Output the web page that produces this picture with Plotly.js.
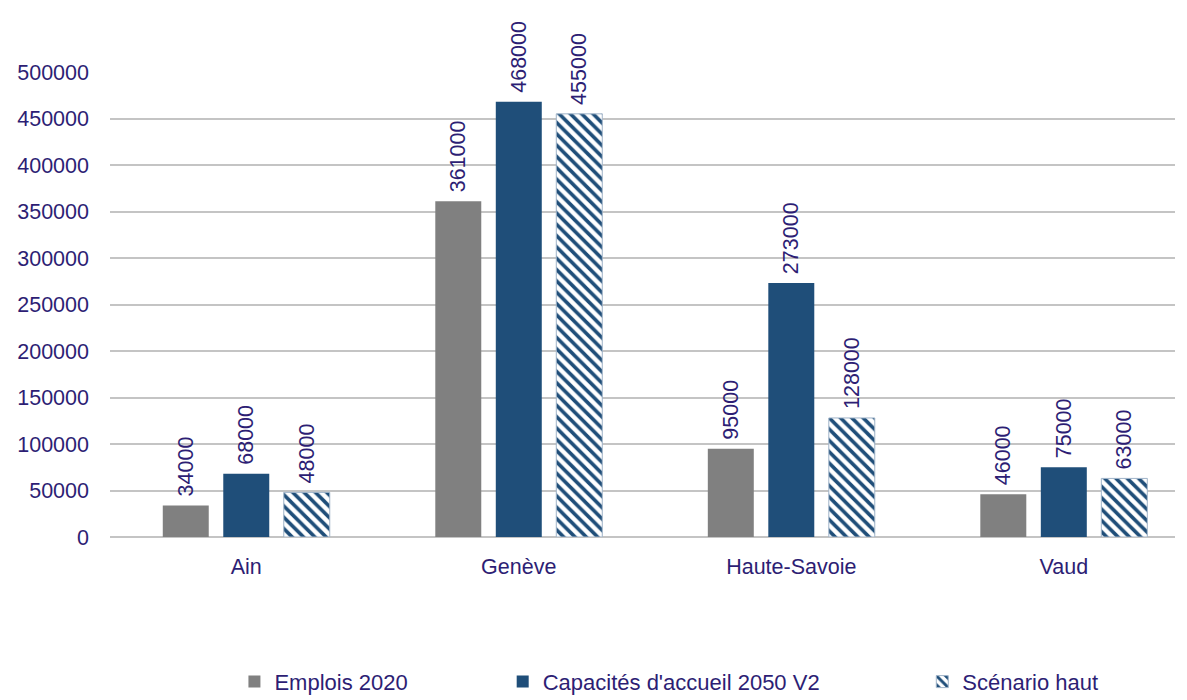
<!DOCTYPE html>
<html><head><meta charset="utf-8">
<script src="https://cdn.plot.ly/plotly-3.0.1.min.js"></script>
<style>body{margin:0;background:#fff}#c{width:1187px;height:700px}</style>
</head><body><div id="c"></div>
<script>
const categories = ['Ain', 'Genève', 'Haute-Savoie', 'Vaud'];
const emplois2020 = [34000, 361000, 95000, 46000];
const capacites2050 = [68000, 468000, 273000, 75000];
const scenarioHaut = [48000, 455000, 128000, 63000];
const yTicks = [0, 50000, 100000, 150000, 200000, 250000, 300000, 350000, 400000, 450000, 500000];

const txtColor = '#2d1e74';
const font = {family: 'Liberation Sans, Arial, sans-serif', size: 21.5, color: txtColor};

function mk(name, y, marker, legend) {
  return {
    type: 'bar', name: name, x: categories, y: y,
    text: y.map(v => '\u00a0' + String(v)), textposition: 'outside', textangle: -90, constraintext: 'none',
    textfont: {family: font.family, size: 21.5, color: txtColor},
    cliponaxis: false, marker: marker, legend: legend
  };
}

const data = [
  mk('Emplois 2020', emplois2020, {color: '#808080'}, 'legend'),
  mk("Capacités d'accueil 2050 V2", capacites2050, {color: '#1f4e79'}, 'legend2'),
  mk('Scénario haut', scenarioHaut, {color: '#ffffff', line: {color: '#9fb3c8', width: 1},
     pattern: {shape: '\\', fgcolor: '#1f4e79', bgcolor: '#ffffff', size: 8, solidity: 0.45}}, 'legend3')
];

const legBase = {orientation: 'h', yanchor: 'middle', xanchor: 'left', yref: 'container', xref: 'container',
  y: 0.026, font: {family: font.family, size: 22, color: txtColor}, bgcolor: 'rgba(0,0,0,0)', itemwidth: 30};

const layout = {
  width: 1187, height: 700,
  margin: {l: 110, r: 12, t: 72, b: 163},
  paper_bgcolor: '#fff', plot_bgcolor: '#fff',
  font: font,
  barmode: 'group', bargap: 0.334, bargroupgap: 0.24,
  xaxis: {type: 'category', range: [-0.5, 3.408], showgrid: false, showline: false, ticks: '',
    tickfont: font, ticklabelstandoff: 14, fixedrange: true},
  yaxis: {range: [0, 500000], tickvals: yTicks, ticktext: yTicks.map(String), showgrid: true,
    gridcolor: '#c4c4c4', gridwidth: 2, zeroline: true, zerolinecolor: '#c4c4c4', zerolinewidth: 2,
    showline: false, ticks: '', tickfont: font, ticklabelstandoff: 20, automargin: false},
  showlegend: true,
  legend: Object.assign({}, legBase, {x: 0.1975}),
  legend2: Object.assign({}, legBase, {x: 0.4235}),
  legend3: Object.assign({}, legBase, {x: 0.777})
};

Plotly.newPlot('c', data, layout, {displayModeBar: false, staticPlot: true});
</script></body></html>
